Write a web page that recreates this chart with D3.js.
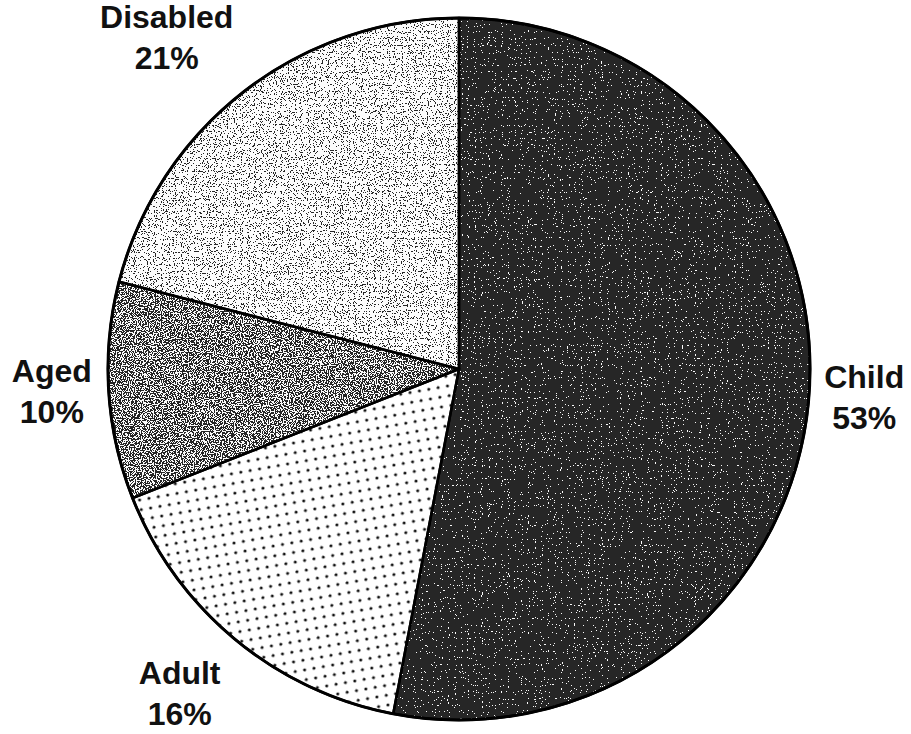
<!DOCTYPE html>
<html>
<head>
<meta charset="utf-8">
<script src="https://cdn.jsdelivr.net/npm/d3@7/dist/d3.min.js"></script>
<style>
  body { margin: 0; background: #fff; }
  text { font-family: "Liberation Sans", Arial, sans-serif; font-weight: bold; fill: #111; }
</style>
</head>
<body>
<div id="chart"></div>
<script>
// data
var categories = ["Child", "Adult", "Aged", "Disabled"];
var shares = [53, 16, 10, 21];

var width = 911, height = 734;
var cx = 459, cy = 369, radius = 351;

// look of each slice: noise level above which a pixel turns white (null = dot pattern)
var speckleCut = [0.69, null, 0.51, 0.40];
var labelNudge = [[-3, -12], [-18, 7], [2, -5], [-41, -9]];

var svg = d3.select("#chart")
    .append("svg")
    .attr("width", width)
    .attr("height", height);

var defs = svg.append("defs");

// speckled print look, one filter per grey level
function makeSpeckle(id, cut, seed) {
    var f = defs.append("filter")
        .attr("id", id)
        .attr("filterUnits", "userSpaceOnUse")
        .attr("x", -cx).attr("y", -cy)
        .attr("width", width).attr("height", height);
    f.append("feTurbulence")
        .attr("type", "fractalNoise")
        .attr("baseFrequency", 0.85)
        .attr("numOctaves", 1)
        .attr("seed", seed)
        .attr("result", "noise");
    f.append("feColorMatrix")
        .attr("in", "noise")
        .attr("type", "matrix")
        .attr("values", "1 0 0 0 0  1 0 0 0 0  1 0 0 0 0  0 0 0 0 1")
        .attr("result", "gray");
    var steps = 100, k = Math.round(cut * steps), table = [];
    for (var j = 0; j < steps; j++) table.push(j < k ? 0.02 : 0.97);
    var ct = f.append("feComponentTransfer").attr("in", "gray").attr("result", "bw");
    ["feFuncR", "feFuncG", "feFuncB"].forEach(function(fn) {
        ct.append(fn).attr("type", "discrete").attr("tableValues", table.join(" "));
    });
    f.append("feComposite")
        .attr("in", "bw")
        .attr("in2", "SourceAlpha")
        .attr("operator", "in");
}
speckleCut.forEach(function(c, i) {
    if (c !== null) makeSpeckle("speckle" + i, c, 3 + i);
});

// dotted pattern for Adult
var dots = defs.append("pattern")
    .attr("id", "dots")
    .attr("patternUnits", "userSpaceOnUse")
    .attr("width", 9.5)
    .attr("height", 9.8)
    .attr("patternTransform", "rotate(-10)");
dots.append("rect").attr("width", 9.5).attr("height", 9.8).attr("fill", "#fff");
dots.append("circle").attr("cx", 4.7).attr("cy", 4.9).attr("r", 1.55).attr("fill", "#111");

var pie = d3.pie().sort(null).value(function(d) { return d; });
var arcs = pie(shares);

var arc = d3.arc().innerRadius(0).outerRadius(radius);
var labelArc = d3.arc().innerRadius(410).outerRadius(410);

var g = svg.append("g").attr("transform", "translate(" + cx + "," + cy + ")");

g.selectAll("path.slice")
    .data(arcs)
    .enter()
    .append("path")
    .attr("class", "slice")
    .attr("d", arc)
    .attr("fill", function(d, i) { return speckleCut[i] === null ? "url(#dots)" : "#000"; })
    .attr("filter", function(d, i) { return speckleCut[i] === null ? null : "url(#speckle" + i + ")"; });

g.selectAll("path.edge")
    .data(arcs)
    .enter()
    .append("path")
    .attr("class", "edge")
    .attr("d", arc)
    .attr("fill", "none")
    .attr("stroke", "#000")
    .attr("stroke-width", 2.5)
    .attr("stroke-linejoin", "round");

g.append("circle")
    .attr("r", radius)
    .attr("fill", "none")
    .attr("stroke", "#000")
    .attr("stroke-width", 3);

var labels = g.selectAll("g.label")
    .data(arcs)
    .enter()
    .append("g")
    .attr("class", "label")
    .attr("transform", function(d, i) {
        var c = labelArc.centroid(d);
        return "translate(" + (c[0] + labelNudge[i][0]) + "," + (c[1] + labelNudge[i][1]) + ")";
    });

labels.append("text")
    .attr("text-anchor", "middle")
    .attr("y", -8)
    .style("font-size", "32px")
    .text(function(d, i) { return categories[i]; });

labels.append("text")
    .attr("text-anchor", "middle")
    .attr("y", 33)
    .style("font-size", "32px")
    .text(function(d) { return d.data + "%"; });
</script>
</body>
</html>
